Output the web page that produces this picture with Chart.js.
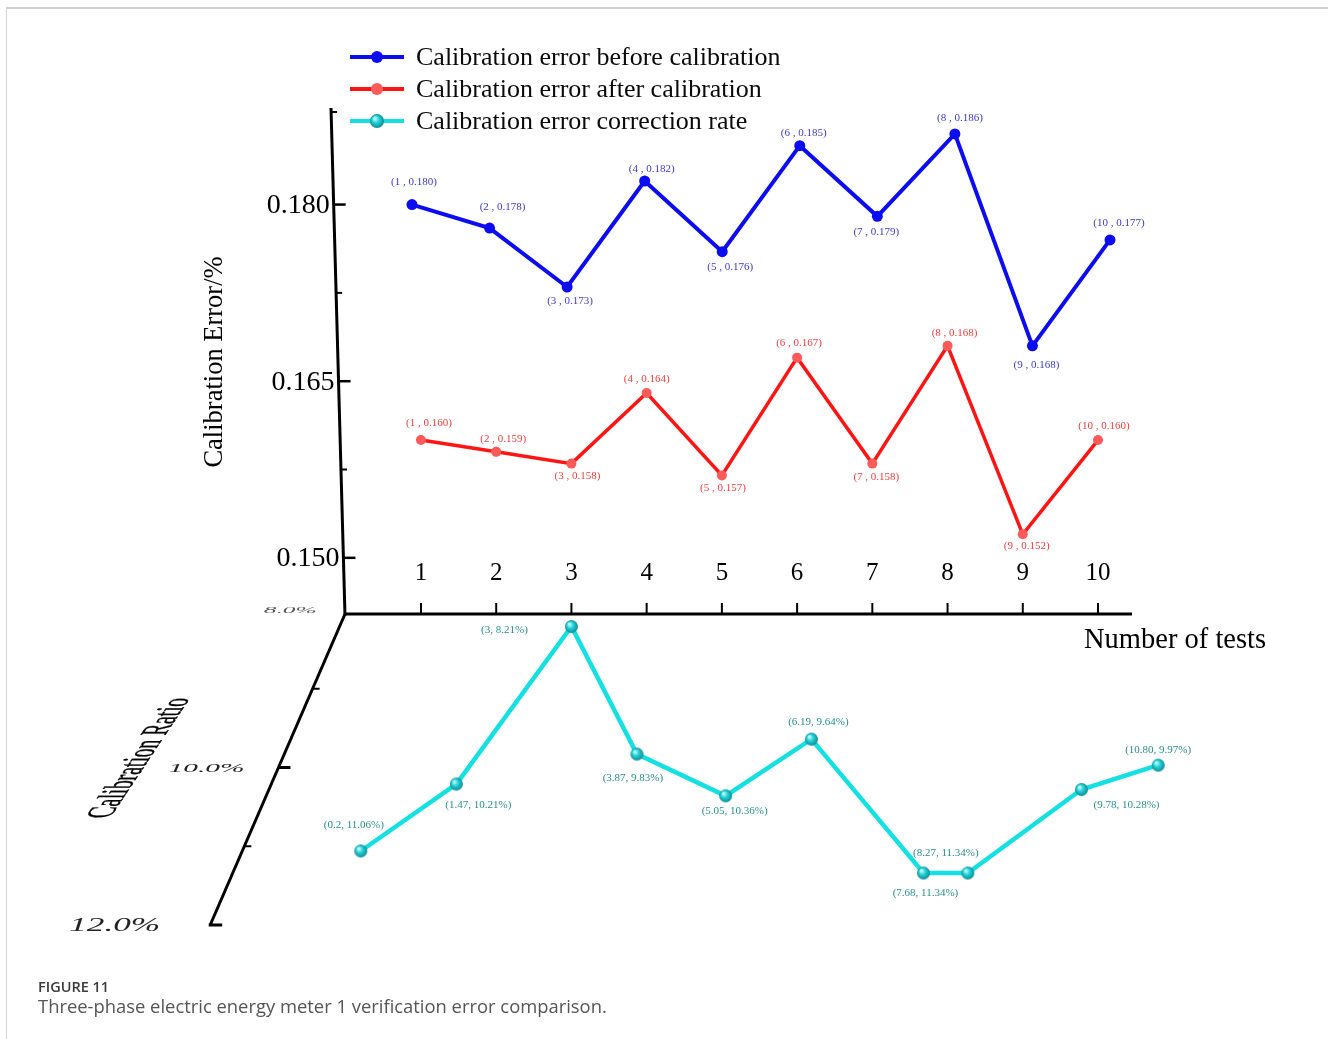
<!DOCTYPE html>
<html>
<head>
<meta charset="utf-8">
<title>Three-phase electric energy meter 1 verification error comparison</title>
<script src="https://cdn.jsdelivr.net/npm/chart.js@4.4.1/dist/chart.umd.min.js"></script>
<style>
  html, body { margin: 0; padding: 0; background: #fff; }
  #wrap { position: relative; width: 1328px; height: 1039px; overflow: hidden; }
  #frame { position: absolute; left: 6px; top: 7px; right: -10px; bottom: -10px;
           border-top: 2px solid #cfcfcf; border-left: 1px solid #d6d6d6; }
  #c { position: absolute; left: 0; top: 0; }
  .cap1 { position: absolute; left: 38px; top: 977px; font: 600 14.5px 'Open Sans', sans-serif; color: #3a3a3a; }
  .cap2 { position: absolute; left: 38px; top: 993px; font: 400 18.4px 'Open Sans', sans-serif; color: #555; }
</style>
</head>
<body>
<div id="wrap">
  <div id="frame"></div>
  <canvas id="c" width="1328" height="1039"></canvas>
  <div class="cap1">FIGURE 11</div>
  <div class="cap2">Three-phase electric energy meter 1 verification error comparison.</div>
</div>
<script>
// ---- data ----
const testNumbers = [1, 2, 3, 4, 5, 6, 7, 8, 9, 10];
const errorBefore = [0.180, 0.178, 0.173, 0.182, 0.176, 0.185, 0.179, 0.186, 0.168, 0.177];
const errorAfter  = [0.160, 0.159, 0.158, 0.164, 0.157, 0.167, 0.158, 0.168, 0.152, 0.160];
// correction rate: position along the test axis and ratio in percent
const rateX       = [0.2, 1.47, 3, 3.87, 5.05, 6.19, 7.68, 8.27, 9.78, 10.80];
const rateXDigits = [1, 2, 0, 2, 2, 2, 2, 2, 2, 2];
const ratePercent = [11.06, 10.21, 8.21, 9.83, 10.36, 9.64, 11.34, 11.34, 10.28, 9.97];
// axis ticks
const errorTicks      = [0.150, 0.165, 0.180];
const errorMinorTicks = [0.1575, 0.1725];
const ratioTicks      = [8, 10, 12];
const ratioMinorTicks = [9, 11];
const seriesNames = [
  'Calibration error before calibration',
  'Calibration error after calibration',
  'Calibration error correction rate'
];

// ---- label placement (offset of each value label from its point, px) ----
const beforeLabelOffset = [[2,-22],[13,-21],[3,14],[7,-12],[8,15],[4,-13],[-1,16],[5,-16],[4,19],[9,-17]];
const afterLabelOffset  = [[8,-17],[7,-13],[6,12],[0,-14],[1,13],[2,-15],[4,13],[7,-13],[4,12],[6,-14]];
const rateLabelOffset   = [[-7,-26],[22,21],[-67,4],[-4,24],[9,15],[7,-17],[2,20],[-22,-20],[45,16],[0,-15]];

// shaded ball used for the correction-rate markers
function makeBall(r) {
  const s = Math.ceil(r * 2 + 2);
  const c = document.createElement('canvas');
  c.width = s; c.height = s;
  const g = c.getContext('2d');
  const m = s / 2;
  const grad = g.createRadialGradient(m - r * 0.35, m - r * 0.4, r * 0.1, m, m, r);
  grad.addColorStop(0, '#c4ffff');
  grad.addColorStop(0.45, '#22d2d8');
  grad.addColorStop(1, '#0f8a94');
  g.fillStyle = grad;
  g.beginPath(); g.arc(m, m, r, 0, Math.PI * 2); g.fill();
  return c;
}
const ball = makeBall(6.5);
const legendBall = makeBall(7);

const SERIF = '"Liberation Serif", "Times New Roman", serif';
const AXIS_Y = 614;            // baseline of the error panel
const AXIS_RIGHT = 1132;       // right end of the test-number axis
const DEPTH_SLOPE = 140 / 323; // horizontal run of the ratio axis per pixel of drop
const depthX = py => 345 - (py - AXIS_Y) * DEPTH_SLOPE;
const errAxisX = (py, top) => 331 + 14 * (py - top) / (AXIS_Y - top);

// axes, ticks and axis titles
const axesPlugin = {
  id: 'axesDecor',
  beforeDatasetsDraw(chart) {
    const ctx = chart.ctx;
    const { x, y, y2 } = chart.scales;
    const top = chart.chartArea.top;
    ctx.save();
    ctx.strokeStyle = '#000';
    ctx.fillStyle = '#000';
    ctx.lineCap = 'butt';

    // error axis (slightly leaning)
    ctx.lineWidth = 3;
    ctx.beginPath();
    ctx.moveTo(errAxisX(top, top), top);
    ctx.lineTo(errAxisX(AXIS_Y, top), AXIS_Y + 1.5);
    ctx.stroke();
    ctx.lineWidth = 2;
    ctx.beginPath();
    ctx.moveTo(errAxisX(top + 4, top), top + 4);
    ctx.lineTo(errAxisX(top + 4, top) + 6, top + 4);
    ctx.stroke();
    ctx.font = '28px ' + SERIF;
    ctx.textAlign = 'right';
    ctx.textBaseline = 'middle';
    errorTicks.forEach(v => {
      const py = y.getPixelForValue(v);
      const ax = errAxisX(py, top);
      ctx.lineWidth = 2.5;
      ctx.beginPath(); ctx.moveTo(ax, py); ctx.lineTo(ax + 12, py); ctx.stroke();
      ctx.fillText(v.toFixed(3), ax - 4, py + 1);
    });
    errorMinorTicks.forEach(v => {
      const py = y.getPixelForValue(v);
      const ax = errAxisX(py, top);
      ctx.lineWidth = 2;
      ctx.beginPath(); ctx.moveTo(ax, py); ctx.lineTo(ax + 6, py); ctx.stroke();
    });

    // test-number axis
    ctx.lineWidth = 3;
    ctx.beginPath();
    ctx.moveTo(344, AXIS_Y); ctx.lineTo(AXIS_RIGHT, AXIS_Y);
    ctx.stroke();
    ctx.font = '25px ' + SERIF;
    ctx.textAlign = 'center';
    testNumbers.forEach(n => {
      const px = x.getPixelForValue(n);
      ctx.lineWidth = 2;
      ctx.beginPath(); ctx.moveTo(px, AXIS_Y); ctx.lineTo(px, AXIS_Y - 11); ctx.stroke();
      ctx.fillText(String(n), px, 573);
    });
    ctx.textAlign = 'left';
    ctx.font = '28.5px ' + SERIF;
    ctx.fillText('Number of tests', 1084, 641);

    // ratio axis drawn in depth
    const endY = y2.getPixelForValue(ratioTicks[ratioTicks.length - 1]);
    ctx.lineWidth = 3;
    ctx.beginPath();
    ctx.moveTo(345, AXIS_Y); ctx.lineTo(depthX(endY), endY);
    ctx.stroke();
    ctx.beginPath();
    ctx.moveTo(depthX(endY) - 1.5, endY); ctx.lineTo(depthX(endY) + 12, endY);
    ctx.stroke();
    ratioTicks.slice(1, -1).forEach(v => {
      const py = y2.getPixelForValue(v);
      ctx.beginPath(); ctx.moveTo(depthX(py), py); ctx.lineTo(depthX(py) + 12, py); ctx.stroke();
    });
    ctx.lineWidth = 2;
    ratioMinorTicks.forEach(v => {
      const py = y2.getPixelForValue(v);
      ctx.beginPath(); ctx.moveTo(depthX(py), py); ctx.lineTo(depthX(py) + 7, py); ctx.stroke();
    });
    const ratioFont = [9, 13, 18];
    const ratioWidth = [53, 76, 91];
    const ratioGap = [30, 34, 50];
    const ratioColor = ['#555', '#222', '#222'];
    ratioTicks.forEach((v, i) => {
      const py = y2.getPixelForValue(v);
      const txt = v.toFixed(1) + '%';
      ctx.save();
      ctx.font = 'italic ' + ratioFont[i] + 'px ' + SERIF;
      const w = ctx.measureText(txt).width;
      ctx.translate(depthX(py) - ratioGap[i], py + 1);
      ctx.scale(ratioWidth[i] / w, 1);
      ctx.textAlign = 'right';
      ctx.textBaseline = 'middle';
      ctx.fillStyle = ratioColor[i];
      ctx.fillText(txt, 0, 0);
      ctx.restore();
    });

    // axis titles
    ctx.save();
    ctx.translate(215, 362);
    ctx.rotate(-Math.PI / 2);
    ctx.font = '26.5px ' + SERIF;
    ctx.textAlign = 'center';
    ctx.textBaseline = 'middle';
    ctx.fillText('Calibration Error/%', 0, 0);
    ctx.restore();

    ctx.save();
    const title = 'Calibration Ratio';
    ctx.font = '42px ' + SERIF;
    const tw = ctx.measureText(title).width;
    const bx = 80, by = -120, bl = Math.hypot(bx, by);
    const s = bl / tw;
    ctx.setTransform(bx / bl * s, by / bl * s, 0.9, 0, 110, 818);
    ctx.textAlign = 'left';
    ctx.textBaseline = 'alphabetic';
    ctx.fillText(title, 0, 0);
    ctx.strokeStyle = '#000';
    ctx.lineWidth = 0.6;
    ctx.strokeText(title, 0, 0);
    ctx.restore();

    ctx.restore();
  }
};

// value labels next to each point
const pointLabelPlugin = {
  id: 'pointLabels',
  afterDatasetsDraw(chart) {
    const ctx = chart.ctx;
    chart.data.datasets.forEach((ds, di) => {
      const meta = chart.getDatasetMeta(di);
      ctx.save();
      ctx.font = '11px ' + SERIF;
      ctx.fillStyle = ds.labelColor;
      ctx.textAlign = 'center';
      ctx.textBaseline = 'middle';
      meta.data.forEach((el, i) => {
        const off = ds.labelOffsets[i];
        ctx.fillText(ds.pointLabels[i], el.x + off[0], el.y + off[1]);
      });
      ctx.restore();
    });
  }
};

// series key in the upper left
const keyPlugin = {
  id: 'seriesKey',
  afterDraw(chart) {
    const ctx = chart.ctx;
    chart.data.datasets.forEach((ds, i) => {
      const ky = 57 + 32 * i;
      ctx.save();
      ctx.strokeStyle = ds.borderColor;
      ctx.lineWidth = 4;
      ctx.beginPath(); ctx.moveTo(350, ky); ctx.lineTo(404, ky); ctx.stroke();
      if (ds.pointStyle && typeof ds.pointStyle === 'object') {
        ctx.drawImage(legendBall, 377 - legendBall.width / 2, ky - legendBall.height / 2);
      } else {
        ctx.fillStyle = ds.pointBackgroundColor;
        ctx.beginPath(); ctx.arc(377, ky, 6, 0, Math.PI * 2); ctx.fill();
      }
      ctx.fillStyle = '#0a0a0a';
      ctx.font = '26px ' + SERIF;
      ctx.textAlign = 'left';
      ctx.textBaseline = 'middle';
      ctx.fillText(ds.label, 416, ky + 1);
      ctx.restore();
    });
  }
};

new Chart(document.getElementById('c'), {
  type: 'line',
  data: {
    datasets: [
      {
        label: seriesNames[0],
        data: testNumbers.map((n, i) => ({ x: n, y: errorBefore[i] })),
        xAxisID: 'xb', yAxisID: 'y',
        borderColor: '#0c0cf0', borderWidth: 4,
        pointBackgroundColor: '#0c0cf0', pointBorderWidth: 0, pointRadius: 5.5,
        tension: 0, clip: false,
        labelColor: '#3b3bc8',
        labelOffsets: beforeLabelOffset,
        pointLabels: testNumbers.map((n, i) => '(' + n + ' , ' + errorBefore[i].toFixed(3) + ')')
      },
      {
        label: seriesNames[1],
        data: testNumbers.map((n, i) => ({ x: n, y: errorAfter[i] })),
        xAxisID: 'x', yAxisID: 'y',
        borderColor: '#ff1414', borderWidth: 3.5,
        pointBackgroundColor: '#ff5a5a', pointBorderWidth: 0, pointRadius: 5,
        tension: 0, clip: false,
        labelColor: '#ee3e3e',
        labelOffsets: afterLabelOffset,
        pointLabels: testNumbers.map((n, i) => '(' + n + ' , ' + errorAfter[i].toFixed(3) + ')')
      },
      {
        label: seriesNames[2],
        data: rateX.map((v, i) => ({ x: v, y: ratePercent[i] })),
        xAxisID: 'x', yAxisID: 'y2',
        borderColor: '#14e0e2', borderWidth: 4.5,
        pointStyle: ball, pointRadius: 6.5,
        tension: 0, clip: false,
        labelColor: '#2b8d8f',
        labelOffsets: rateLabelOffset,
        pointLabels: rateX.map((v, i) => '(' + v.toFixed(rateXDigits[i]) + ', ' + ratePercent[i].toFixed(2) + '%)')
      }
    ]
  },
  options: {
    responsive: false,
    animation: false,
    devicePixelRatio: 1,
    layout: { padding: { left: 345, right: 158, top: 108, bottom: 102 } },
    plugins: { legend: { display: false }, tooltip: { enabled: false } },
    scales: {
      x:  { type: 'linear', display: false, min: -0.01, max: 10.957 },
      xb: { type: 'linear', display: false, min: 0.1362, max: 10.7736 },
      y:  { type: 'linear', display: false, min: 0.1178, max: 0.1882 },
      y2: { type: 'linear', display: false, min: 1.6254, max: 12.1524, reverse: true }
    }
  },
  plugins: [axesPlugin, pointLabelPlugin, keyPlugin]
});
</script>
</body>
</html>
